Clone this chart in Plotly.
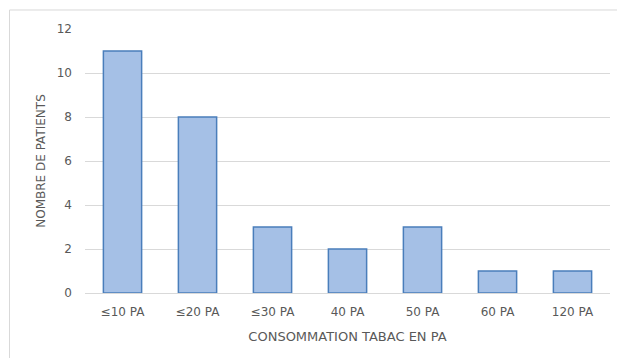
import plotly.graph_objects as go

categories = ["≤10 PA", "≤20 PA", "≤30 PA", "40 PA", "50 PA", "60 PA", "120 PA"]
patients = [11, 8, 3, 2, 3, 1, 1]
y_ticks = [0, 2, 4, 6, 8, 10, 12]

text_color = "#595959"
font_family = "DejaVu Sans, sans-serif"

fig = go.Figure(
    go.Bar(
        x=categories,
        y=patients,
        width=0.51,
        marker=dict(color="#a5c0e6", line=dict(color="#4a7ebb", width=1.5)),
    )
)

fig.update_layout(
    width=617,
    height=358,
    margin=dict(l=85, r=7, t=29, b=65, autoexpand=False),
    paper_bgcolor="white",
    plot_bgcolor="white",
    showlegend=False,
    font=dict(family=font_family, color=text_color, size=12),
    xaxis=dict(
        showgrid=False,
        showline=False,
        ticks="",
        ticklabelstandoff=10,
        tickfont=dict(size=12, color=text_color),
        title=dict(text="CONSOMMATION TABAC EN PA", font=dict(size=13, color=text_color), standoff=13),
    ),
    yaxis=dict(
        range=[0, 12],
        tickvals=y_ticks,
        showgrid=True,
        gridcolor="#d9d9d9",
        gridwidth=1,
        zeroline=True,
        zerolinecolor="#d9d9d9",
        zerolinewidth=1,
        showline=False,
        ticks="",
        ticklabelstandoff=12,
        tickfont=dict(size=12, color=text_color),
        title=dict(text="NOMBRE DE PATIENTS", font=dict(size=12, color=text_color), standoff=8),
    ),
    shapes=[
        dict(
            type="rect",
            xref="paper",
            yref="paper",
            x0=-0.1438,
            x1=1.2,
            y0=-0.5,
            y1=1.072,
            line=dict(color="#d9d9d9", width=1),
            fillcolor="rgba(0,0,0,0)",
            layer="below",
        )
    ],
)

fig.write_html("out.html")
